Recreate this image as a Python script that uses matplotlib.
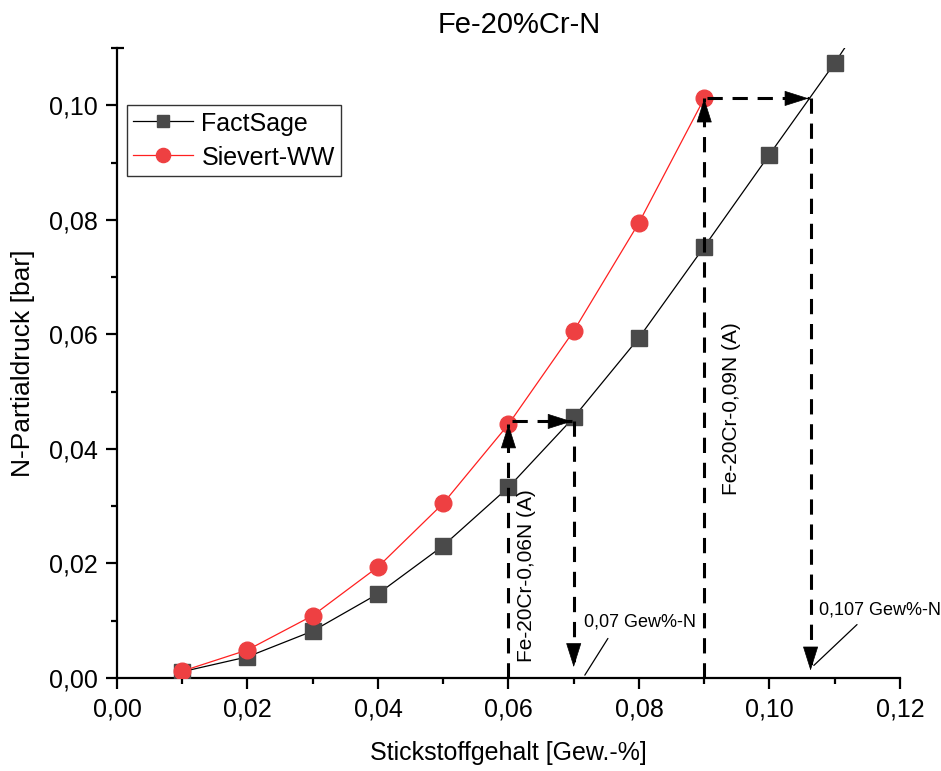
import matplotlib
matplotlib.use("Agg")
import matplotlib.pyplot as plt
from matplotlib.ticker import MultipleLocator, FuncFormatter

plt.rcParams['font.family'] = ['Liberation Sans', 'DejaVu Sans']

# ---- data ----
x_fs = [0.01, 0.02, 0.03, 0.04, 0.05, 0.06, 0.07, 0.08, 0.09, 0.10, 0.11, 0.12]
y_fs = [0.0011, 0.0037, 0.0082, 0.0147, 0.0231, 0.0333, 0.0455, 0.0594, 0.0753, 0.0914, 0.1074, 0.1245]
x_sv = [0.01, 0.02, 0.03, 0.04, 0.05, 0.06, 0.07, 0.08, 0.09]
y_sv = [0.0012, 0.0049, 0.0109, 0.0194, 0.0305, 0.0443, 0.0606, 0.0795, 0.1012]

label_fs = "FactSage"
label_sv = "Sievert-WW"
title = "Fe-20%Cr-N"
xlabel = "Stickstoffgehalt [Gew.-%]"
ylabel = "N-Partialdruck [bar]"

# annotation paths (data coords)
path1_up = ([0.06, 0.06], [0.0, 0.0443])
path1_right = ([0.0605, 0.0697], [0.0448, 0.0448])
path1_down = ([0.07, 0.07], [0.0448, 0.0019])
path2_up = ([0.09, 0.09], [0.0, 0.1012])
path2_right = ([0.0905, 0.1060], [0.1012, 0.1012])
path2_down = ([0.1063, 0.1063], [0.1012, 0.0013])

fig = plt.figure(figsize=(9.41, 7.71), dpi=100)
ax = fig.add_axes([0.1243, 0.1206, 0.8321, 0.8171])

ax.plot(x_fs, y_fs, color='black', lw=0.9, marker='s', ms=11,
        mfc='#4a4a4a', mec='#4a4a4a', label=label_fs, zorder=3)
ax.plot(x_sv, y_sv, color='#ff2020', lw=0.9, marker='o', ms=12,
        mfc='#ee4042', mec='#ee4042', label=label_sv, zorder=4)

ax.set_xlim(0, 0.12)
ax.set_ylim(0, 0.11)

dash = (0, (5, 3.2))
def dashed_arrow(path):
    xs, ys = path
    ax.plot(xs, ys, color='black', lw=2.2, linestyle=dash, zorder=5,
            solid_capstyle='butt', dash_capstyle='butt')
    dx = xs[1] - xs[0]
    dy = ys[1] - ys[0]
    tip = (xs[1], ys[1])
    base = (xs[1] - dx * 0.02, ys[1] - dy * 0.02)
    ax.annotate('', xy=tip, xytext=base,
                arrowprops=dict(arrowstyle='-|>,head_length=0.95,head_width=0.3',
                                color='black', lw=0.5, shrinkA=0, shrinkB=0,
                                mutation_scale=17),
                zorder=6)

for p in [path1_up, path1_right, path1_down, path2_up, path2_right, path2_down]:
    dashed_arrow(p)

ax.text(0.0628, 0.0179, "Fe-20Cr-0,06N (A)", rotation=90, ha='center', va='center', fontsize=15)
ax.text(0.0942, 0.0470, "Fe-20Cr-0,09N (A)", rotation=90, ha='center', va='center', fontsize=15)

ax.annotate("0,07 Gew%-N", xy=(0.0717, 0.0005), xytext=(0.0715, 0.0097),
            fontsize=13, ha='left', va='center',
            arrowprops=dict(arrowstyle='-', color='black', lw=0.9,
                            shrinkA=4, shrinkB=0, relpos=(0.26, 0.0)))
ax.annotate("0,107 Gew%-N", xy=(0.1068, 0.0022), xytext=(0.1076, 0.0118),
            fontsize=13, ha='left', va='center',
            arrowprops=dict(arrowstyle='-', color='black', lw=0.9,
                            shrinkA=3, shrinkB=0, relpos=(0.36, 0.0)),
            annotation_clip=False)

for s in ['top', 'right']:
    ax.spines[s].set_visible(False)
for s in ['left', 'bottom']:
    ax.spines[s].set_linewidth(1.6)

ax.xaxis.set_major_locator(MultipleLocator(0.02))
ax.xaxis.set_minor_locator(MultipleLocator(0.01))
ax.yaxis.set_major_locator(MultipleLocator(0.02))
ax.yaxis.set_minor_locator(MultipleLocator(0.01))
fmt = FuncFormatter(lambda v, p: f"{v:.2f}".replace('.', ','))
ax.xaxis.set_major_formatter(fmt)
ax.yaxis.set_major_formatter(fmt)
ax.tick_params(which='major', direction='out', length=8, width=1.6, labelsize=18, pad=6)
ax.tick_params(which='minor', direction='out', length=4.5, width=1.6)

# top cap of y axis
ax.plot([0, 0.009], [1, 1], transform=ax.transAxes, color='black', lw=1.6,
        clip_on=False, solid_capstyle='butt')

ax.set_xlabel(xlabel, fontsize=18, labelpad=14)
ax.set_ylabel(ylabel, fontsize=19, labelpad=10)
fig.text(0.552, 0.967, title, ha='center', va='center', fontsize=21)

leg = ax.legend(loc='upper left', bbox_to_anchor=(0.013, 0.9095), borderaxespad=0,
                fontsize=18, frameon=True, fancybox=False, handlelength=2.4,
                handleheight=1.0, handletextpad=0.32, borderpad=0.25,
                labelspacing=0.35, markerscale=0.85)
leg.get_frame().set_edgecolor('black')
leg.get_frame().set_linewidth(1.0)

fig.savefig("out.png", dpi=100)
